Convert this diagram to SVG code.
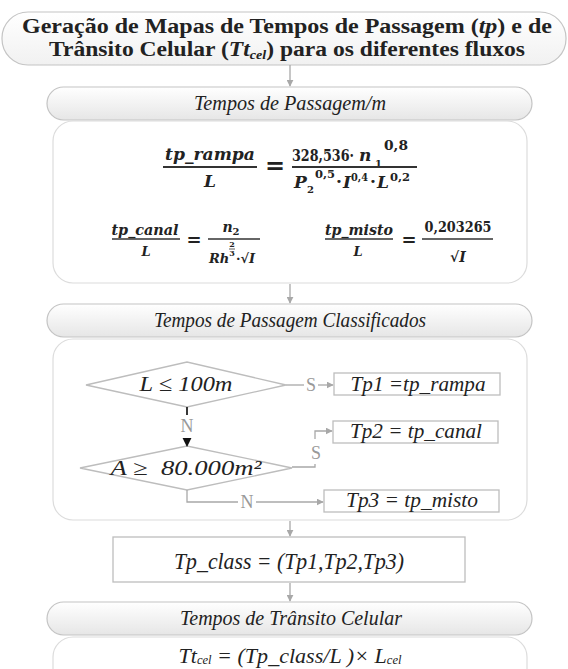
<svg xmlns="http://www.w3.org/2000/svg" width="568" height="669" viewBox="0 0 568 669">
<style>
.hdr{fill:url(#g1);stroke:#c4c4c4;stroke-width:1.2}
.pnl{fill:#fff;stroke:#dcdcdc;stroke-width:1.2}
.box{fill:#fff;stroke:#bdbdbd;stroke-width:1.3}
.ser{font-family:"Liberation Serif","DejaVu Serif",serif;fill:#222}
.it{font-family:"Liberation Serif","DejaVu Serif",serif;font-style:italic;fill:#222}
.m{font-family:"DejaVu Serif","Liberation Serif",serif;font-weight:bold;fill:#222}
.i{font-style:italic}
.c{stroke:#a8a8a8;stroke-width:1.3;fill:none}
.lbl{font-family:"Liberation Serif",serif;fill:#999;font-size:18px}
.fl{stroke:#333}
</style>
<defs>
<linearGradient id="g1" x1="0" y1="0" x2="0" y2="1">
<stop offset="0" stop-color="#ffffff"/><stop offset="1" stop-color="#e6e6e6"/>
</linearGradient>
<linearGradient id="g0" x1="0" y1="0" x2="0" y2="1">
<stop offset="0" stop-color="#ffffff"/><stop offset="1" stop-color="#f1f1f1"/>
</linearGradient>
<marker id="ah" viewBox="0 0 10 10" refX="9" refY="5" markerWidth="7" markerHeight="7" orient="auto" markerUnits="userSpaceOnUse"><path d="M0,0L10,5L0,10z" fill="#a8a8a8"/></marker>
<marker id="ahk" viewBox="0 0 10 10" refX="9" refY="5" markerWidth="9" markerHeight="10" orient="auto" markerUnits="userSpaceOnUse"><path d="M0,0L10,5L0,10z" fill="#111"/></marker>
</defs>
<rect width="568" height="669" fill="#fff"/>

<g id="title">
<rect x="2" y="12" width="564" height="53" rx="26" ry="26" fill="url(#g0)" stroke="#c4c4c4" stroke-width="1.2"/>
<text class="ser" x="287" y="33" text-anchor="middle" font-size="20" font-weight="bold" textLength="530" lengthAdjust="spacingAndGlyphs">Geração de Mapas de Tempos de Passagem (<tspan class="i">tp</tspan>) e de</text>
<text class="ser" x="287" y="56" text-anchor="middle" font-size="20" font-weight="bold" textLength="476" lengthAdjust="spacingAndGlyphs">Trânsito Celular (<tspan class="i">Tt</tspan><tspan class="i" font-size="12" dy="3">cel</tspan><tspan dy="-3">) para os diferentes fluxos</tspan></text>
</g>

<g id="hdr1">
<rect class="hdr" x="47" y="87" width="485" height="33" rx="16.5"/>
<text class="it" x="290" y="110" text-anchor="middle" font-size="21" textLength="192" lengthAdjust="spacingAndGlyphs">Tempos de Passagem/m</text>
</g>

<g id="formulas">
<rect class="pnl" x="53" y="121" width="474" height="162" rx="20"/>
<text class="m i" x="210" y="160" text-anchor="middle" font-size="17" textLength="90" lengthAdjust="spacingAndGlyphs">tp_rampa</text>
<line class="fl" x1="163" y1="167" x2="257" y2="167" stroke-width="1.8"/>
<text class="m i" x="210" y="187" text-anchor="middle" font-size="17">L</text>
<text class="m" x="275" y="174" text-anchor="middle" font-size="24">=</text>
<text class="m" x="292" y="161" font-size="17" textLength="62" lengthAdjust="spacingAndGlyphs">328,536·</text>
<text class="m i" x="359" y="161" font-size="17">n</text>
<text class="m" x="375" y="167" font-size="10">1</text>
<text class="m" x="384" y="150" font-size="12" textLength="24" lengthAdjust="spacingAndGlyphs">0,8</text>
<line class="fl" x1="292" y1="167" x2="417" y2="167" stroke-width="1.8"/>
<text class="m" font-size="17"><tspan class="i" x="294" y="188">P</tspan><tspan x="307" y="193" font-size="10">2</tspan><tspan x="315" y="178" font-size="11" textLength="20" lengthAdjust="spacingAndGlyphs">0,5</tspan><tspan x="336" y="187">·</tspan><tspan class="i" x="343" y="188">I</tspan><tspan x="351" y="181" font-size="11" textLength="17" lengthAdjust="spacingAndGlyphs">0,4</tspan><tspan x="370" y="187">·</tspan><tspan class="i" x="377" y="188">L</tspan><tspan x="390" y="181" font-size="11" textLength="20" lengthAdjust="spacingAndGlyphs">0,2</tspan></text>

<text class="m i" x="145" y="235" text-anchor="middle" font-size="14" textLength="67" lengthAdjust="spacingAndGlyphs">tp_canal</text>
<line class="fl" x1="112" y1="239" x2="180" y2="239" stroke-width="1.3"/>
<text class="m i" x="146" y="256" text-anchor="middle" font-size="13">L</text>
<text class="m" x="194" y="246" text-anchor="middle" font-size="18">=</text>
<text class="m" x="231" y="232" text-anchor="middle" font-size="14"><tspan class="i">n</tspan><tspan font-size="10" dy="3">2</tspan></text>
<line class="fl" x1="208" y1="239" x2="260" y2="239" stroke-width="1.3"/>
<text class="m i" x="209" y="263" font-size="13">Rh</text>
<text class="m" x="232" y="247" font-size="8" text-anchor="middle">2</text>
<line class="fl" x1="229" y1="249" x2="235" y2="249" stroke-width="0.8"/>
<text class="m" x="232" y="256" font-size="8" text-anchor="middle">3</text>
<text class="m" x="236" y="263" font-size="13">·√<tspan class="i">I</tspan></text>

<text class="m i" x="359" y="235" text-anchor="middle" font-size="14" textLength="68" lengthAdjust="spacingAndGlyphs">tp_misto</text>
<line class="fl" x1="325" y1="239" x2="393" y2="239" stroke-width="1.3"/>
<text class="m i" x="358" y="256" text-anchor="middle" font-size="13">L</text>
<text class="m" x="409" y="246" text-anchor="middle" font-size="18">=</text>
<text class="m" x="458" y="232" text-anchor="middle" font-size="14" textLength="67" lengthAdjust="spacingAndGlyphs">0,203265</text>
<line class="fl" x1="422" y1="239" x2="493" y2="239" stroke-width="1.3"/>
<text class="m" x="458" y="262" text-anchor="middle" font-size="14">√<tspan class="i">I</tspan></text>
</g>

<g id="hdr2">
<rect class="hdr" x="47" y="304" width="485" height="33" rx="16.5"/>
<text class="it" x="290" y="327" text-anchor="middle" font-size="21" textLength="272" lengthAdjust="spacingAndGlyphs">Tempos de Passagem Classificados</text>
</g>

<g id="panel2">
<rect class="pnl" x="53" y="339" width="474" height="181" rx="20"/>
</g>

<g id="d1">
<polygon points="86,385 187,362 286,385 187,407" fill="#fff" stroke="#bdbdbd" stroke-width="1.3"/>
<text class="it" x="186" y="391" text-anchor="middle" font-size="22" textLength="93" lengthAdjust="spacingAndGlyphs">L ≤ 100m</text>
</g>
<g id="d2">
<polygon points="80,468 187,446 292,468 187,490" fill="#fff" stroke="#bdbdbd" stroke-width="1.3"/>
<text class="it" x="186" y="475" text-anchor="middle" font-size="21" textLength="151" lengthAdjust="spacingAndGlyphs" xml:space="preserve">A ≥  80.000m²</text>
</g>

<g id="tp1">
<rect class="box" x="334" y="373" width="166" height="22"/>
<text class="it" x="418" y="391" text-anchor="middle" font-size="22" textLength="135" lengthAdjust="spacingAndGlyphs">Tp1 =tp_rampa</text>
</g>
<g id="tp2">
<rect class="box" x="333" y="421" width="165" height="22"/>
<text class="it" x="416" y="438" text-anchor="middle" font-size="22" textLength="132" lengthAdjust="spacingAndGlyphs">Tp2 = tp_canal</text>
</g>
<g id="tp3">
<rect class="box" x="324" y="490" width="175" height="22"/>
<text class="it" x="412" y="507" text-anchor="middle" font-size="22" textLength="132" lengthAdjust="spacingAndGlyphs">Tp3 = tp_misto</text>
</g>

<g id="tpclass">
<rect class="box" x="113" y="537" width="352" height="45"/>
<text class="it" x="289" y="569" text-anchor="middle" font-size="24" textLength="230" lengthAdjust="spacingAndGlyphs">Tp_class = (Tp1,Tp2,Tp3)</text>
</g>

<g id="hdr3">
<rect class="hdr" x="47" y="602" width="485" height="33" rx="16.5"/>
<text class="it" x="291" y="625" text-anchor="middle" font-size="21" textLength="222" lengthAdjust="spacingAndGlyphs">Tempos de Trânsito Celular</text>
</g>

<g id="panel3">
<rect class="pnl" x="53" y="637" width="474" height="60" rx="20"/>
<text class="it" x="290" y="663" text-anchor="middle" font-size="21" textLength="223" lengthAdjust="spacingAndGlyphs">Tt<tspan font-size="12" dy="1">cel</tspan><tspan dy="-1"> = (Tp_class/L )× L</tspan><tspan font-size="12" dy="1">cel</tspan></text>
</g>

<g id="connectors">
<line class="c" x1="290" y1="65" x2="290" y2="86" marker-end="url(#ah)"/>
<line class="c" x1="290" y1="284" x2="290" y2="303" marker-end="url(#ah)"/>
<line class="c" x1="290" y1="521" x2="290" y2="536" marker-end="url(#ah)"/>
<line class="c" x1="290" y1="583" x2="290" y2="601" marker-end="url(#ah)"/>
<path class="c" d="M286,385 H304"/>
<text class="lbl" x="311" y="391" text-anchor="middle">S</text>
<path class="c" d="M318,385 H333" marker-end="url(#ah)"/>
<path d="M187,407 V415" stroke="#222" stroke-width="1.8"/>
<text class="lbl" x="187" y="432" text-anchor="middle">N</text>
<line x1="187" y1="438" x2="187" y2="446" stroke="#111" stroke-width="0.5" marker-end="url(#ahk)"/>
<path class="c" d="M292,467 H315 V464"/>
<text class="lbl" x="316" y="459" text-anchor="middle">S</text>
<path class="c" d="M315,439 V431 H332" marker-end="url(#ah)"/>
<path class="c" d="M187,490 V502 H238"/>
<text class="lbl" x="247" y="508" text-anchor="middle">N</text>
<path class="c" d="M256,502 H323" marker-end="url(#ah)"/>
</g>
</svg>
